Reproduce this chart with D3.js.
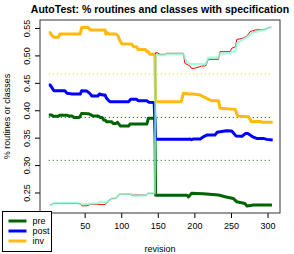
<!DOCTYPE html>
<html>
<head>
<meta charset="utf-8">
<script src="https://cdn.jsdelivr.net/npm/d3@7"></script>
<style>
  body { margin: 0; background: #fff; }
  svg { display: block; font-family: "Liberation Sans", Arial, sans-serif; }
  .axis path, .axis line { stroke: #000; }
  .axis text { font-size: 9px; fill: #000; }
</style>
</head>
<body>
<div id="chart"></div>
<script>
// Series, as [revision, share] pairs
var preData = [[1,0.3912],[5,0.3912],[7,0.389],[14,0.389],[16,0.391],[26,0.391],[28,0.3894],[33,0.3894],[35,0.387],[43,0.387],[46,0.3943],[55,0.3937],[58,0.392],[62,0.3894],[69,0.3894],[71,0.387],[74,0.387],[76,0.3821],[78,0.3821],[80,0.379],[87,0.379],[89,0.376],[93,0.376],[95,0.378],[96,0.376],[99,0.3712],[110,0.3712],[112,0.3748],[135,0.3748],[137,0.3852],[146,0.3852],[147,0.245],[190,0.245],[192,0.242],[196,0.2484],[212,0.2478],[233,0.2453],[242,0.2422],[253,0.2392],[258,0.233],[269,0.23],[272,0.2252],[281,0.227],[299,0.2274],[306,0.2274]];
var postData = [[1,0.446],[3,0.446],[5,0.4418],[8,0.4356],[23,0.4356],[26,0.4308],[33,0.4296],[44,0.4296],[46,0.4356],[53,0.435],[57,0.4308],[60,0.4259],[68,0.4259],[70,0.4296],[75,0.4277],[78,0.4277],[80,0.4217],[83,0.4173],[85,0.4155],[110,0.4155],[113,0.42],[121,0.42],[123,0.4173],[135,0.4173],[138,0.4144],[145,0.414],[147,0.3469],[192,0.3469],[194,0.3475],[196,0.3462],[198,0.3475],[208,0.3475],[212,0.3515],[217,0.3547],[228,0.3547],[231,0.3597],[244,0.3626],[251,0.362],[257,0.353],[265,0.3524],[270,0.3578],[273,0.3578],[276,0.355],[279,0.352],[285,0.3487],[294,0.3487],[299,0.3469],[307,0.3456]];
var invData = [[1,0.5414],[3,0.5414],[5,0.537],[8,0.533],[14,0.533],[16,0.539],[44,0.539],[46,0.551],[55,0.551],[58,0.5463],[78,0.5463],[79,0.539],[81,0.5415],[83,0.539],[93,0.539],[96,0.535],[98,0.527],[101,0.521],[114,0.521],[117,0.516],[121,0.516],[123,0.511],[133,0.511],[135,0.507],[137,0.507],[139,0.502],[146,0.502],[147,0.4156],[182,0.4156],[185,0.431],[194,0.4296],[198,0.4296],[208,0.4277],[212,0.4247],[219,0.4204],[224,0.4173],[233,0.4173],[235,0.4035],[256,0.4016],[259,0.3894],[274,0.388],[278,0.379],[284,0.3795],[290,0.3795],[293,0.378],[307,0.378]];
var routinesData = [[3,0.227],[7,0.23],[44,0.23],[46,0.2257],[53,0.2257],[58,0.2283],[78,0.2283],[83,0.2348],[87,0.2392],[92,0.2392],[98,0.247],[112,0.247],[114,0.2453],[134,0.2453],[136,0.2484],[146,0.2484],[147,0.505],[149,0.505],[153,0.502],[160,0.502],[162,0.5038],[185,0.5038],[187,0.4856],[194,0.4807],[196,0.4764],[200,0.4764],[210,0.4807],[215,0.4807],[217,0.4856],[219,0.4929],[233,0.4929],[235,0.5068],[249,0.5068],[251,0.513],[256,0.5159],[258,0.5293],[265,0.5307],[272,0.5354],[276,0.5433],[283,0.5463],[297,0.5476],[303,0.5513],[305,0.5513]];
var classesData = [[3,0.225],[7,0.23],[39,0.2312],[44,0.2283],[67,0.23],[71,0.233],[80,0.233],[83,0.235],[87,0.239],[92,0.2392],[98,0.247],[115,0.247],[117,0.2434],[135,0.2453],[137,0.2484],[146,0.2484],[147,0.5007],[160,0.5007],[162,0.503],[185,0.503],[189,0.4885],[194,0.4843],[215,0.4843],[217,0.4885],[219,0.4958],[233,0.4958],[235,0.5038],[249,0.5038],[251,0.5068],[256,0.5068],[258,0.522],[265,0.528],[274,0.5354],[278,0.5414],[285,0.5433],[297,0.5476],[303,0.5513],[305,0.5513]];

// Reference levels (dotted)
var refNames = ["inv", "post", "pre"];
var refValues = [0.466, 0.387, 0.3086];

var legendNames = ["pre", "post", "inv"];
var xTicks = [50, 100, 150, 200, 250, 300];
var yTicks = [0.25, 0.30, 0.35, 0.40, 0.45, 0.50, 0.55];

var COLORS = { pre: "#006400", post: "#0000ff", inv: "#ffb90f", routines: "#ff0000", classes: "#7fffd4" };

var width = 294, height = 254;
var margins = { top: 20, right: 14, bottom: 41, left: 40 };
var chartWidth = width - margins.left - margins.right;
var chartHeight = height - margins.top - margins.bottom;

var svg = d3.select("#chart").append("svg")
  .attr("width", width)
  .attr("height", height);

// Title
svg.append("text")
  .attr("x", margins.left + chartWidth / 2)
  .attr("y", 13)
  .attr("text-anchor", "middle")
  .style("font-weight", "bold")
  .style("font-size", "10.5px")
  .text("AutoTest: % routines and classes with specification");

var chart = svg.append("g")
  .attr("transform", "translate(" + margins.left + "," + margins.top + ")");

var xScale = d3.scaleLinear().domain([-11, 317]).range([0, chartWidth]);
var yScale = d3.scaleLinear().domain([0.2126, 0.5646]).range([chartHeight, 0]);

// Axes
chart.append("g")
  .attr("class", "x axis")
  .attr("transform", "translate(0," + chartHeight + ")")
  .call(d3.axisBottom(xScale).tickValues(xTicks).tickSize(5).tickPadding(5).tickFormat(d3.format("d")))
  .call(g => g.select(".domain").remove());

var yAxisG = chart.append("g")
  .attr("class", "y axis")
  .call(d3.axisLeft(yScale).tickValues(yTicks).tickSize(5).tickFormat(d3.format(".2f")))
  .call(g => g.select(".domain").remove());

yAxisG.selectAll("text")
  .attr("x", 0)
  .attr("dy", 0)
  .attr("y", -10)
  .attr("transform", "rotate(-90)")
  .attr("text-anchor", "middle");

// Axis titles
svg.append("text")
  .attr("x", margins.left + chartWidth / 2)
  .attr("y", 252)
  .attr("text-anchor", "middle")
  .style("font-size", "9px")
  .text("revision");

svg.append("text")
  .attr("transform", "translate(10," + (margins.top + chartHeight / 2) + ") rotate(-90)")
  .attr("text-anchor", "middle")
  .style("font-size", "9px")
  .text("% routines or classes");

// Dotted reference lines
var xFirst = 1, xLast = 307;
chart.selectAll(".ref")
  .data(refValues)
  .enter()
  .append("line")
  .attr("class", "ref")
  .attr("x1", xScale(xFirst))
  .attr("x2", xScale(xLast))
  .attr("y1", d => yScale(d))
  .attr("y2", d => yScale(d))
  .attr("stroke", (d, i) => COLORS[refNames[i]])
  .attr("stroke-width", 1)
  .attr("stroke-dasharray", "1,3");

var line = d3.line()
  .x(d => xScale(d[0]))
  .y(d => yScale(d[1]));

var series = [
  { name: "pre", data: preData, width: 3, opacity: 1 },
  { name: "post", data: postData, width: 3, opacity: 1 },
  { name: "inv", data: invData, width: 3, opacity: 1 },
  { name: "routines", data: routinesData, width: 1, opacity: 1 },
  { name: "classes", data: classesData, width: 2.2, opacity: 0.75 }
];

chart.selectAll(".series")
  .data(series)
  .enter()
  .append("path")
  .attr("class", "series")
  .attr("d", d => line(d.data))
  .attr("fill", "none")
  .attr("stroke", d => COLORS[d.name])
  .attr("stroke-width", d => d.width)
  .attr("stroke-opacity", d => d.opacity)
  .attr("stroke-linejoin", "round");

// Plot frame
chart.append("rect")
  .attr("x", 0)
  .attr("y", 0)
  .attr("width", chartWidth)
  .attr("height", chartHeight)
  .attr("fill", "none")
  .attr("stroke", "#333");

// Legend
var legend = svg.append("g").attr("transform", "translate(2.5,211.5)");
legend.append("rect")
  .attr("width", 49)
  .attr("height", 40)
  .attr("fill", "#fff")
  .attr("stroke", "#000");

var items = legend.selectAll(".key")
  .data(legendNames)
  .enter()
  .append("g")
  .attr("class", "key")
  .attr("transform", (d, i) => "translate(0," + (9.5 + i * 10) + ")");

items.append("line")
  .attr("x1", 6)
  .attr("x2", 24)
  .attr("stroke", d => COLORS[d])
  .attr("stroke-width", 3);

items.append("text")
  .attr("x", 30)
  .attr("dy", "0.33em")
  .style("font-size", "9px")
  .text(d => d);
</script>
</body>
</html>
